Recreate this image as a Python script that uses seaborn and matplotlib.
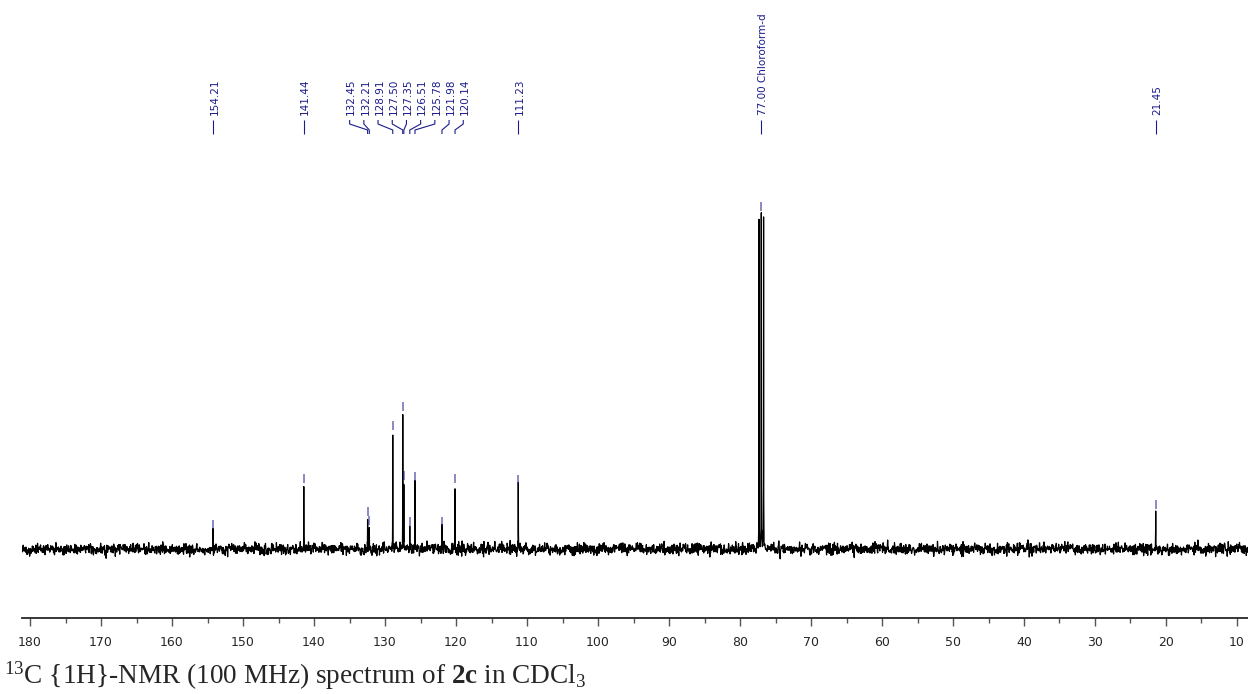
import numpy as np
import pandas as pd
import matplotlib
matplotlib.use("Agg")
import matplotlib.pyplot as plt
from matplotlib import transforms
import seaborn as sns

# ---------------- data ----------------
peak_ppm = [154.21, 141.44, 132.45, 132.21, 128.91, 127.50, 127.35, 126.51,
            125.78, 121.98, 120.14, 111.23, 77.32, 77.00, 76.68, 21.45]
peak_height = [5.3, 18.8, 9.0, 6.3, 34.6, 40.3, 19.7, 6.0,
               19.4, 6.0, 18.8, 18.5, 97.9, 100.0, 98.8, 11.0]

label_ppm = [154.21, 141.44, 132.45, 132.21, 128.91, 127.50, 127.35, 126.51,
             125.78, 121.98, 120.14, 111.23, 77.00, 21.45]
label_text = ["154.21", "141.44", "132.45", "132.21", "128.91", "127.50", "127.35",
              "126.51", "125.78", "121.98", "120.14", "111.23", "77.00 Chloroform-d", "21.45"]

major_ticks = [180, 170, 160, 150, 140, 130, 120, 110, 100, 90, 80, 70, 60, 50, 40, 30, 20, 10]
minor_ticks = [175, 165, 155, 145, 135, 125, 115, 105, 95, 85, 75, 65, 55, 45, 35, 25, 15]

caption = r"$^{13}$C {1H}-NMR (100 MHz) spectrum of $\mathbf{2c}$ in CDCl$_3$"

# ---------------- style ----------------
sns.set_style("ticks")
plt.rcParams["font.family"] = ["DejaVu Sans"]
plt.rcParams["mathtext.fontset"] = "custom"
plt.rcParams["mathtext.rm"] = "Liberation Serif"
plt.rcParams["mathtext.it"] = "Liberation Serif:italic"
plt.rcParams["mathtext.bf"] = "Liberation Serif:bold"

W, H = 1248, 694
fig = plt.figure(figsize=(W / 100, H / 100), dpi=100)
ax_left, ax_bottom_px, ax_top_px = 22, 618, 0
ax = fig.add_axes([ax_left / W, (H - ax_bottom_px) / H, (W - ax_left) / W, (ax_bottom_px - ax_top_px) / H])

# ---------------- spectrum line ----------------
grid = np.linspace(181.3, 8.3, 3600)
offsets = np.array([-0.05, -0.025, -0.012, -0.005, 0.0, 0.005, 0.012, 0.025, 0.05])
extra = np.concatenate([p + offsets for p in peak_ppm])
x = np.sort(np.concatenate([grid, extra]))[::-1]
gamma = 0.012
y = np.zeros_like(x)
for p, h in zip(peak_ppm, peak_height):
    y += h * gamma ** 2 / ((x - p) ** 2 + gamma ** 2)
rng = np.random.default_rng(7)
y = y + rng.normal(0.0, 0.85, x.size)
df = pd.DataFrame({"ppm": x, "intensity": y})
sns.lineplot(data=df, x="ppm", y="intensity", sort=False, estimator=None,
             color="black", linewidth=0.9, ax=ax)

ax.set_xlim(181.13, 8.45)
ax.set_ylim(-20.6, 163.9)

# ---------------- peak labels ----------------
navy = "#1b1b8c"
gap = 2.0
clusters = [[p] for p in sorted(label_ppm, reverse=True)]
changed = True
while changed:
    changed = False
    for i in range(len(clusters) - 1):
        a, b = clusters[i], clusters[i + 1]
        ca, cb = np.mean(a), np.mean(b)
        a_low = ca - (len(a) - 1) / 2 * gap
        b_high = cb + (len(b) - 1) / 2 * gap
        if a_low - b_high < gap:
            clusters[i] = a + b
            del clusters[i + 1]
            changed = True
            break
pos = {}
for c in clusters:
    cen = np.mean(c)
    n = len(c)
    for k, p in enumerate(sorted(c, reverse=True)):
        pos[p] = cen + ((n - 1) / 2 - k) * gap

def yfrac(py):
    return (ax_bottom_px - py) / (ax_bottom_px - ax_top_px)

trans = transforms.blended_transform_factory(ax.transData, ax.transAxes)
text_trans = trans + transforms.ScaledTranslation(1.5 / 100, 0, fig.dpi_scale_trans)
height_of = dict(zip(peak_ppm, peak_height))
for p, t in zip(label_ppm, label_text):
    lx = pos[p]
    ax.text(lx, yfrac(115), t, rotation=90, ha="center", va="bottom",
            fontsize=7.5, color=navy, transform=text_trans)
    ax.plot([lx, lx, p, p], [yfrac(120), yfrac(124), yfrac(130), yfrac(134)],
            color=navy, lw=0.8, transform=trans, solid_capstyle="butt")
    h = height_of[p]
    ax.plot([p, p], [h + 0.8, h + 3.5], color=navy, alpha=0.55, lw=1.3,
            solid_capstyle="butt")

# ---------------- axes styling ----------------
for s in ["top", "left", "right"]:
    ax.spines[s].set_visible(False)
ax.spines["bottom"].set_linewidth(1.3)
ax.set_yticks([])
ax.set_xticks(major_ticks)
ax.set_xticks(minor_ticks, minor=True)
ax.set_xticklabels([str(v) for v in major_ticks])
ax.tick_params(axis="x", which="major", direction="out", length=6, width=1.0,
               color="#555555", labelsize=9, pad=7)
ax.tick_params(axis="x", which="minor", direction="out", length=3.5, width=1.0,
               color="#555555")
ax.set_xlabel("")
ax.set_ylabel("")

fig.text(4 / W, (H - 684) / H, caption, fontsize=19.6, family="Liberation Serif",
         ha="left", va="baseline")

fig.savefig("out.png", dpi=100)
